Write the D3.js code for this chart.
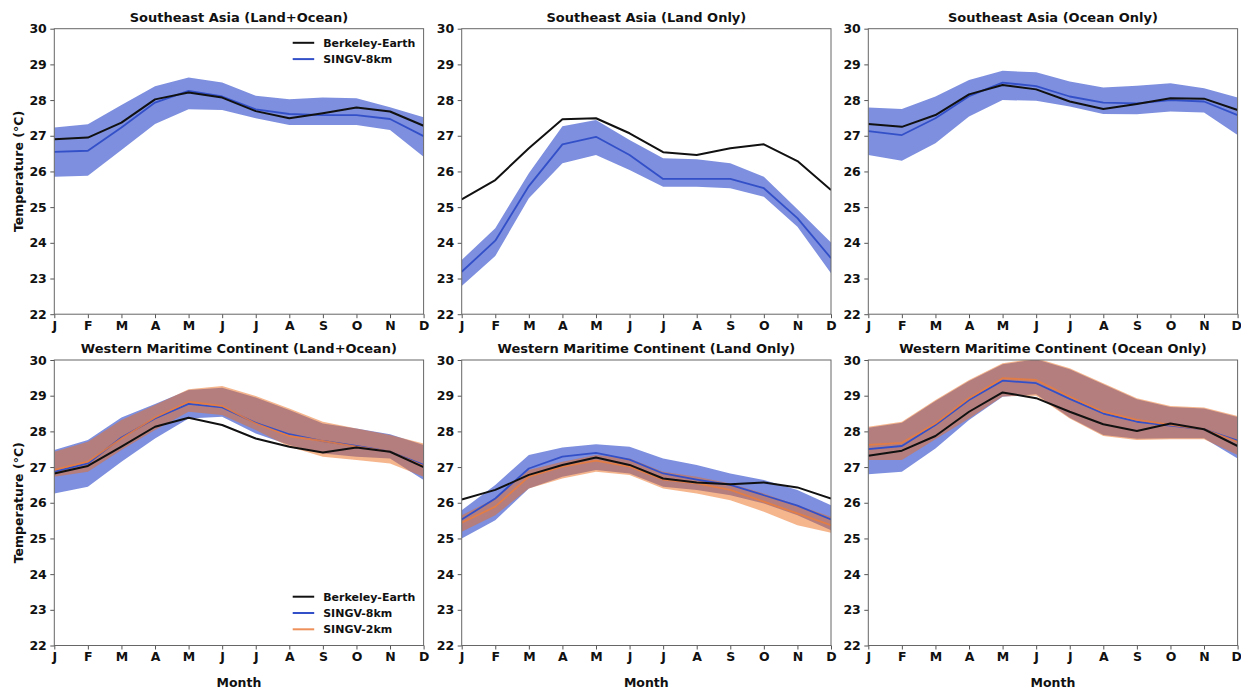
<!DOCTYPE html>
<html>
<head>
<meta charset="utf-8">
<script src="https://cdn.jsdelivr.net/npm/d3@7"></script>
<style>
  html, body { margin: 0; padding: 0; background: #fff; }
  svg { display: block; }
  text { font-family: "DejaVu Sans", sans-serif; font-weight: bold; fill: #111; }
</style>
</head>
<body>
<svg id="chart" width="1241" height="692"></svg>
<script>
// Month tick labels and temperature ticks
const months = ["J", "F", "M", "A", "M", "J", "J", "A", "S", "O", "N", "D"];
const tempTicks = [22, 23, 24, 25, 26, 27, 28, 29, 30];

// Southeast Asia (Land+Ocean)
const seaAllBerkeley = [26.90, 26.95, 27.37, 28.02, 28.21, 28.07, 27.69, 27.49, 27.63, 27.79, 27.68, 27.28];
const seaAll8km      = [26.55, 26.58, 27.23, 27.93, 28.26, 28.10, 27.74, 27.61, 27.58, 27.58, 27.47, 26.99];
const seaAll8kmHigh  = [27.23, 27.32, 27.86, 28.39, 28.63, 28.49, 28.12, 28.02, 28.07, 28.05, 27.80, 27.52];
const seaAll8kmLow   = [25.85, 25.88, 26.60, 27.33, 27.74, 27.72, 27.49, 27.30, 27.30, 27.30, 27.16, 26.41];

// Southeast Asia (Land Only)
const seaLandBerkeley = [25.22, 25.76, 26.65, 27.46, 27.49, 27.07, 26.54, 26.46, 26.65, 26.76, 26.29, 25.48];
const seaLand8km      = [23.19, 24.06, 25.59, 26.76, 26.97, 26.46, 25.79, 25.79, 25.79, 25.53, 24.69, 23.57];
const seaLand8kmHigh  = [23.52, 24.41, 25.95, 27.27, 27.44, 26.88, 26.37, 26.34, 26.23, 25.85, 24.94, 24.01];
const seaLand8kmLow   = [22.79, 23.63, 25.25, 26.23, 26.46, 26.04, 25.57, 25.57, 25.53, 25.29, 24.45, 23.15];

// Southeast Asia (Ocean Only)
const seaOceanBerkeley = [27.33, 27.25, 27.58, 28.16, 28.42, 28.30, 27.96, 27.75, 27.89, 28.05, 28.04, 27.72];
const seaOcean8km      = [27.13, 27.02, 27.49, 28.11, 28.49, 28.39, 28.10, 27.93, 27.91, 28.00, 27.96, 27.58];
const seaOcean8kmHigh  = [27.79, 27.75, 28.10, 28.56, 28.82, 28.78, 28.52, 28.35, 28.40, 28.47, 28.33, 28.07];
const seaOcean8kmLow   = [26.46, 26.30, 26.79, 27.54, 28.00, 27.98, 27.82, 27.61, 27.60, 27.68, 27.65, 27.02];

// Western Maritime Continent (Land+Ocean)
const wmcAllBerkeley = [26.82, 27.03, 27.57, 28.13, 28.38, 28.18, 27.80, 27.57, 27.41, 27.55, 27.43, 27.00];
const wmcAll8km      = [26.87, 27.10, 27.83, 28.36, 28.77, 28.67, 28.24, 27.92, 27.73, 27.59, 27.43, 27.06];
const wmcAll8kmHigh  = [27.48, 27.76, 28.39, 28.77, 29.16, 29.22, 28.95, 28.60, 28.22, 28.08, 27.92, 27.62];
const wmcAll8kmLow   = [26.26, 26.45, 27.15, 27.80, 28.36, 28.41, 27.94, 27.62, 27.38, 27.29, 27.24, 26.64];
const wmcAll2km      = [26.92, 27.15, 27.80, 28.39, 28.83, 28.71, 28.22, 27.87, 27.73, 27.57, 27.43, 27.03];
const wmcAll2kmHigh  = [27.43, 27.71, 28.32, 28.74, 29.18, 29.27, 28.99, 28.64, 28.27, 28.08, 27.90, 27.66];
const wmcAll2kmLow   = [26.73, 26.87, 27.48, 28.04, 28.55, 28.46, 28.04, 27.57, 27.29, 27.20, 27.10, 26.73];

// Western Maritime Continent (Land Only)
const wmcLandBerkeley = [26.09, 26.36, 26.78, 27.06, 27.27, 27.06, 26.68, 26.57, 26.52, 26.57, 26.43, 26.12];
const wmcLand8km      = [25.53, 26.12, 26.96, 27.29, 27.40, 27.21, 26.82, 26.65, 26.50, 26.21, 25.92, 25.53];
const wmcLand8kmHigh  = [25.79, 26.50, 27.34, 27.55, 27.64, 27.57, 27.24, 27.06, 26.82, 26.64, 26.36, 25.93];
const wmcLand8kmLow   = [25.00, 25.51, 26.40, 26.73, 26.92, 26.82, 26.45, 26.36, 26.21, 25.98, 25.65, 25.23];
const wmcLand2km      = [25.44, 25.89, 26.73, 27.01, 27.18, 27.01, 26.65, 26.54, 26.36, 26.03, 25.70, 25.37];
const wmcLand2kmHigh  = [25.65, 26.12, 26.92, 27.15, 27.34, 27.24, 26.87, 26.73, 26.54, 26.26, 25.93, 25.61];
const wmcLand2kmLow   = [25.19, 25.65, 26.40, 26.68, 26.87, 26.78, 26.40, 26.26, 26.07, 25.75, 25.37, 25.16];

// Western Maritime Continent (Ocean Only)
const wmcOceanBerkeley = [27.32, 27.46, 27.87, 28.55, 29.09, 28.93, 28.55, 28.20, 28.01, 28.22, 28.06, 27.59];
const wmcOcean8km      = [27.50, 27.59, 28.18, 28.88, 29.42, 29.35, 28.91, 28.50, 28.27, 28.16, 28.06, 27.74];
const wmcOcean8kmHigh  = [28.10, 28.24, 28.85, 29.41, 29.88, 30.02, 29.74, 29.32, 28.90, 28.68, 28.64, 28.40];
const wmcOcean8kmLow   = [26.80, 26.87, 27.52, 28.32, 28.97, 29.04, 28.38, 27.90, 27.79, 27.81, 27.81, 27.24];
const wmcOcean2km      = [27.62, 27.68, 28.22, 28.93, 29.49, 29.44, 28.97, 28.55, 28.32, 28.18, 28.06, 27.71];
const wmcOcean2kmHigh  = [28.13, 28.27, 28.88, 29.44, 29.91, 30.05, 29.77, 29.35, 28.93, 28.71, 28.67, 28.43];
const wmcOcean2kmLow   = [27.20, 27.20, 27.78, 28.36, 28.98, 29.00, 28.36, 27.87, 27.76, 27.78, 27.78, 27.34];

// Colours
const colBerkeley = "#111111";
const col8km = "#3350c8";
const col8kmFill = "rgb(38,68,200)";
const col2km = "#ea7d3c";
const col2kmFill = "rgb(235,110,30)";

const panels = [
  { title: "Southeast Asia (Land+Ocean)", col: 0, row: 0, obs: seaAllBerkeley,
    m8: seaAll8km, m8hi: seaAll8kmHigh, m8lo: seaAll8kmLow, legend: "top" },
  { title: "Southeast Asia (Land Only)", col: 1, row: 0, obs: seaLandBerkeley,
    m8: seaLand8km, m8hi: seaLand8kmHigh, m8lo: seaLand8kmLow },
  { title: "Southeast Asia (Ocean Only)", col: 2, row: 0, obs: seaOceanBerkeley,
    m8: seaOcean8km, m8hi: seaOcean8kmHigh, m8lo: seaOcean8kmLow },
  { title: "Western Maritime Continent (Land+Ocean)", col: 0, row: 1, obs: wmcAllBerkeley,
    m8: wmcAll8km, m8hi: wmcAll8kmHigh, m8lo: wmcAll8kmLow,
    m2: wmcAll2km, m2hi: wmcAll2kmHigh, m2lo: wmcAll2kmLow, legend: "bottom" },
  { title: "Western Maritime Continent (Land Only)", col: 1, row: 1, obs: wmcLandBerkeley,
    m8: wmcLand8km, m8hi: wmcLand8kmHigh, m8lo: wmcLand8kmLow,
    m2: wmcLand2km, m2hi: wmcLand2kmHigh, m2lo: wmcLand2kmLow },
  { title: "Western Maritime Continent (Ocean Only)", col: 2, row: 1, obs: wmcOceanBerkeley,
    m8: wmcOcean8km, m8hi: wmcOcean8kmHigh, m8lo: wmcOcean8kmLow,
    m2: wmcOcean2km, m2hi: wmcOcean2kmHigh, m2lo: wmcOcean2kmLow }
];

const svg = d3.select("#chart");
const colLeft = [54.3, 461.7, 868.3];
const plotW = 369.3;
const rowTop = [28.7, 360];
const plotH = 285.5;

panels.forEach((p, i) => {
  const x0 = colLeft[p.col], y0 = rowTop[p.row];
  const g = svg.append("g").attr("transform", `translate(${x0},${y0})`);

  const x = d3.scaleLinear().domain([0, 11]).range([0, plotW]);
  const y = d3.scaleLinear().domain([22, 30]).range([plotH, 0]);

  const clipId = "clip" + i;
  g.append("clipPath").attr("id", clipId)
    .append("rect").attr("width", plotW).attr("height", plotH);
  const plot = g.append("g").attr("clip-path", `url(#${clipId})`);

  const area = (lo, hi) => d3.area()
    .x((d, k) => x(k)).y0((d, k) => y(lo[k])).y1((d, k) => y(hi[k]))(months);
  const line = (vals) => d3.line().x((d, k) => x(k)).y(d => y(d))(vals);

  plot.append("path").attr("d", area(p.m8lo, p.m8hi))
    .attr("fill", col8kmFill).attr("fill-opacity", 0.6);
  if (p.m2) {
    plot.append("path").attr("d", area(p.m2lo, p.m2hi))
      .attr("fill", col2kmFill).attr("fill-opacity", 0.5);
  }
  plot.append("path").attr("d", line(p.m8)).attr("fill", "none")
    .attr("stroke", col8km).attr("stroke-width", 1.8).attr("stroke-linejoin", "round");
  if (p.m2) {
    plot.append("path").attr("d", line(p.m2)).attr("fill", "none")
      .attr("stroke", col2km).attr("stroke-opacity", 0.85)
      .attr("stroke-width", 1.8).attr("stroke-linejoin", "round");
  }
  plot.append("path").attr("d", line(p.obs)).attr("fill", "none")
    .attr("stroke", colBerkeley).attr("stroke-width", 2).attr("stroke-linejoin", "round");

  // Axes
  const xAxis = d3.axisBottom(x).tickValues(d3.range(12))
    .tickFormat(k => months[k]).tickSize(4).tickPadding(3);
  const yAxis = d3.axisLeft(y).tickValues(tempTicks).tickFormat(d3.format("d"))
    .tickSize(4).tickPadding(3.5);

  const gx = g.append("g").attr("transform", `translate(0,${plotH})`).call(xAxis);
  const gy = g.append("g").call(yAxis);
  [gx, gy].forEach(a => {
    a.select(".domain").remove();
    a.selectAll(".tick line").attr("stroke", "#555").attr("stroke-width", 1);
    a.selectAll(".tick text").style("font-size", "12.5px").style("font-weight", "bold")
      .attr("fill", "#111");
  });
  // keep the last month label of the right-hand column inside the page
  if (p.col === 2) {
    gx.selectAll(".tick text").filter((d) => d === 11).attr("dx", "-1.5");
  }

  // Frame
  g.append("rect").attr("width", plotW).attr("height", plotH)
    .attr("fill", "none").attr("stroke", "#666").attr("stroke-width", 1);

  // Title
  g.append("text").attr("x", plotW / 2).attr("y", -7)
    .attr("text-anchor", "middle").style("font-size", "13px").text(p.title);

  if (p.col === 0) {
    g.append("text")
      .attr("transform", `translate(${18.3 - x0},${plotH / 2}) rotate(-90)`)
      .attr("text-anchor", "middle").attr("dy", "0.35em")
      .style("font-size", "12.5px").text("Temperature (°C)");
  }
  if (p.row === 1) {
    g.append("text").attr("x", plotW / 2).attr("y", 683 - y0).attr("dy", "0.35em")
      .attr("text-anchor", "middle").style("font-size", "12.5px").text("Month");
  }

  // Legend
  if (p.legend) {
    const items = [["Berkeley-Earth", colBerkeley, 1]];
    items.push(["SINGV-8km", col8km, 1]);
    if (p.m2) items.push(["SINGV-2km", col2km, 0.85]);
    const ly = p.legend === "top" ? 42.8 - y0 : 596.7 - y0;
    const lg = g.append("g").attr("transform", `translate(${292.7 - x0},${ly})`);
    items.forEach((it, k) => {
      const row = lg.append("g").attr("transform", `translate(0,${k * 16.3})`);
      row.append("line").attr("x1", 0).attr("x2", 21.5)
        .attr("stroke", it[1]).attr("stroke-opacity", it[2]).attr("stroke-width", 2);
      row.append("text").attr("x", 30.5).attr("dy", "0.35em")
        .style("font-size", "11px").text(it[0]);
    });
  }
});
</script>
</body>
</html>
